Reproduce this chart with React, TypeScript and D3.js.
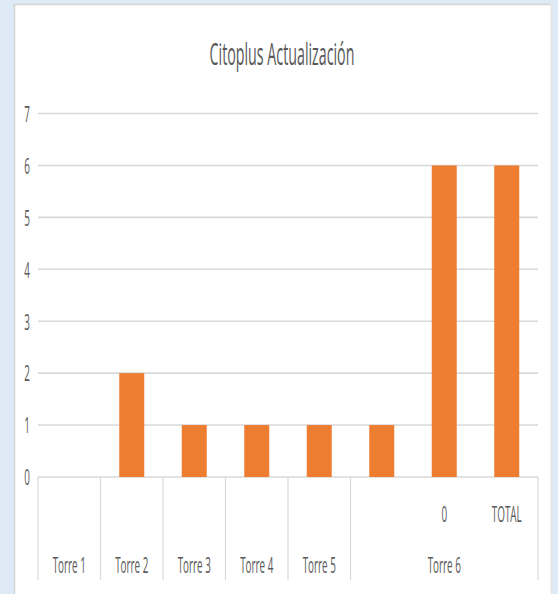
import React from "react";
import * as d3 from "d3";

const title = "Citoplus Actualización";
const leafGroups = ["Torre 1", "Torre 2", "Torre 3", "Torre 4", "Torre 5", "Torre 6", "Torre 6", "Torre 6"];
const leafLabels = ["", "", "", "", "", "", "0", "TOTAL"];
const values: (number | null)[] = [null, 2, 1, 1, 1, 1, 6, 6];
const yTicks = [0, 1, 2, 3, 4, 5, 6, 7];

const W = 558;
const H = 594;
const X0 = 38;
const X1 = 538;
const Y0 = 477;
const Y7 = 113.5;
const SX = 0.47;
const TEXT = "#595959";
const GRID = "#D9D9D9";
const FONT = "'Open Sans', sans-serif";

export default function App() {
  const idx = leafGroups.map((_, i) => String(i));
  const x = d3.scaleBand<string>().domain(idx).range([X0, X1]).paddingInner(0.6).paddingOuter(0.3);
  const y = d3.scaleLinear().domain([0, 7]).range([Y0, Y7]);
  const step = x.step();
  const slotLeft = (i: number) => (x(String(i)) as number) + x.bandwidth() / 2 - step / 2;

  const groups: { name: string; start: number; end: number }[] = [];
  leafGroups.forEach((g, i) => {
    const last = groups[groups.length - 1];
    if (last && last.name === g) last.end = i;
    else groups.push({ name: g, start: i, end: i });
  });
  const boundaries = [X0, ...groups.map((g) => slotLeft(g.end) + step)];

  const label = (t: string, cx: number, cy: number, size: number, anchor: string, key?: string) => (
    <g key={key} transform={`translate(${cx},${cy}) scale(${SX},1)`}>
      <text
        x={0}
        y={0}
        fontFamily={FONT}
        fontSize={size}
        fill={TEXT}
        textAnchor={anchor}
        dominantBaseline="central"
      >
        {t}
      </text>
    </g>
  );

  return (
    <svg width={W} height={H} style={{ position: "absolute", left: 0, top: 0 }}>
      <rect x={0} y={0} width={W} height={H} fill="#DEEBF7" />
      <rect x={14} y={4} width={537} height={H} fill="#FFFFFF" />
      <line x1={14} y1={4.5} x2={551} y2={4.5} stroke="#D4D4D4" strokeWidth={1.5} />
      <line x1={14.5} y1={4} x2={14.5} y2={H} stroke="#D4D4D4" strokeWidth={1.5} />
      <line x1={551} y1={4} x2={551} y2={H} stroke="#E4E4E4" strokeWidth={1} />

      <g transform={`translate(282,53) scale(0.46,1)`}>
        <text x={0} y={0} fontFamily={FONT} fontSize={31} fill={TEXT} textAnchor="middle" dominantBaseline="central">
          {title}
        </text>
      </g>

      {yTicks.map((t) => (
        <line key={"g" + t} x1={X0} x2={X1} y1={y(t)} y2={y(t)} stroke={GRID} strokeWidth={1.6} />
      ))}
      {yTicks.map((t) => label(String(t), 30, y(t), 21, "end", "t" + t))}

      {values.map((v, i) =>
        v == null ? null : (
          <rect
            key={"b" + i}
            x={x(String(i))}
            y={y(v)}
            width={x.bandwidth()}
            height={y(0) - y(v)}
            fill="#ED7D31"
          />
        )
      )}

      {boundaries.map((bx, i) => (
        <line key={"s" + i} x1={bx} x2={bx} y1={Y0} y2={580} stroke={GRID} strokeWidth={1.2} />
      ))}

      {leafLabels.map((l, i) =>
        l ? label(l, (x(String(i)) as number) + x.bandwidth() / 2, 514, 21, "middle", "l" + i) : null
      )}
      {groups.map((g) =>
        label(g.name, (slotLeft(g.start) + slotLeft(g.end) + step) / 2, 565, 21, "middle", "gr" + g.name)
      )}
    </svg>
  );
}
